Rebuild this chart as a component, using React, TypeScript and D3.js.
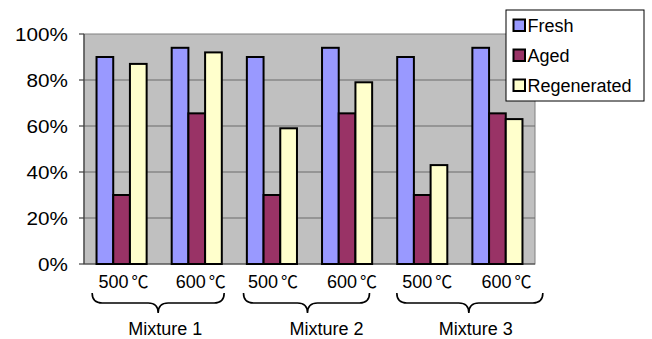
import React from "react";
import * as d3 from "d3";

const groups = ["M1-500", "M1-600", "M2-500", "M2-600", "M3-500", "M3-600"];
const tempLabels = ["500", "600", "500", "600", "500", "600"];
const tempUnit = "℃";
const seriesNames = ["Fresh", "Aged", "Regenerated"];
const fresh = [0.9, 0.94, 0.9, 0.94, 0.9, 0.94];
const aged = [0.3, 0.655, 0.3, 0.655, 0.3, 0.655];
const regenerated = [0.87, 0.92, 0.59, 0.79, 0.43, 0.63];
const seriesColors = ["#9999FF", "#993366", "#FFFFCC"];
const mixtures = ["Mixture 1", "Mixture 2", "Mixture 3"];
const yTicks = [0, 0.2, 0.4, 0.6, 0.8, 1.0];

// annotation nudges (manual text boxes / braces in the original)
const tempLabelNudge = [2, 4, 1, 5, 5, 9];
const braceLeft = [-67, -66, -63];
const braceRight = [65, 60, 83];
const braceTip = [-1, -2, 9];
const mixtureLabelNudge = [6, 17, 16];

const W = 652;
const H = 339;
const plot = { left: 84, right: 535, top: 34, bottom: 264 };
const FONT = "'Liberation Sans', Arial, 'Noto Sans CJK SC', sans-serif";

export default function App() {
  const x = d3.scaleBand<string>().domain(groups).range([plot.left, plot.right]).paddingInner(0).paddingOuter(0);
  const xi = d3.scaleBand<string>().domain(seriesNames).range([0, x.bandwidth()]).paddingInner(0).paddingOuter(0.75);
  const y = d3.scaleLinear().domain([0, 1]).range([plot.bottom, plot.top]);
  const series = [fresh, aged, regenerated];

  const bracePath = (xl: number, xr: number, xc: number) => {
    const y0 = 293, ym = 303, yt = 313, r = 10;
    return `M${xl},${y0} Q${xl},${ym} ${xl + r},${ym} L${xc - r},${ym} Q${xc},${ym} ${xc},${yt} Q${xc},${ym} ${xc + r},${ym} L${xr - r},${ym} Q${xr},${ym} ${xr},${y0}`;
  };

  return (
    <svg width={W} height={H} style={{ position: "absolute", left: 0, top: 0, background: "#fff" }} fontFamily={FONT}>
      <rect x={plot.left} y={plot.top} width={plot.right - plot.left} height={plot.bottom - plot.top} fill="#C0C0C0" stroke="#808080" strokeWidth={1} />
      {yTicks.slice(1, -1).map((t) => (
        <line key={"g" + t} x1={plot.left} x2={plot.right} y1={y(t)} y2={y(t)} stroke="#6a6a6a" strokeWidth={1} />
      ))}
      <line x1={plot.left} x2={plot.left} y1={plot.top} y2={plot.bottom} stroke="#404040" strokeWidth={1.2} />
      <line x1={plot.left} x2={plot.right} y1={plot.bottom} y2={plot.bottom} stroke="#404040" strokeWidth={1.2} />
      {yTicks.map((t) => (
        <g key={"t" + t}>
          <line x1={plot.left - 5} x2={plot.left} y1={y(t)} y2={y(t)} stroke="#404040" strokeWidth={1.2} />
          <text transform={`translate(68,${y(t) + 6.5}) scale(1.15,1)`} textAnchor="end" fontSize={18} fill="#000">
            {`${Math.round(t * 100)}%`}
          </text>
        </g>
      ))}
      {groups.map((g, gi) => (
        <g key={g}>
          {series.map((vals, si) => (
            <rect
              key={si}
              x={(x(g) as number) + (xi(seriesNames[si]) as number)}
              y={y(vals[gi])}
              width={xi.bandwidth()}
              height={y(0) - y(vals[gi])}
              fill={seriesColors[si]}
              stroke="#000"
              strokeWidth={2}
            />
          ))}
          <text x={(x(g) as number) + x.bandwidth() / 2 + tempLabelNudge[gi]} y={288} textAnchor="middle" fontSize={18}>
            {tempLabels[gi]}
            <tspan dx={3} fontFamily="'Noto Sans CJK SC', 'Noto Sans CJK JP', sans-serif" fontSize={17}>{tempUnit}</tspan>
          </text>
        </g>
      ))}
      {mixtures.map((m, mi) => {
        const c = (x(groups[mi * 2 + 1]) as number);
        return (
          <g key={m}>
            <path d={bracePath(c + braceLeft[mi], c + braceRight[mi], c + braceTip[mi])} fill="none" stroke="#000" strokeWidth={1.6} />
            <text x={c + mixtureLabelNudge[mi]} y={335} textAnchor="middle" fontSize={18}>
              {m}
            </text>
          </g>
        );
      })}
      <rect x={506} y={10} width={138} height={91} fill="#fff" stroke="#000" strokeWidth={1} />
      {seriesNames.map((s, si) => (
        <g key={s} transform={`translate(513,${19 + si * 30})`}>
          <rect x={0.5} y={0.5} width={11.5} height={11.5} fill={seriesColors[si]} stroke="#000" strokeWidth={2} />
          <text x={14.5} y={12.5} fontSize={18}>
            {s}
          </text>
        </g>
      ))}
    </svg>
  );
}
